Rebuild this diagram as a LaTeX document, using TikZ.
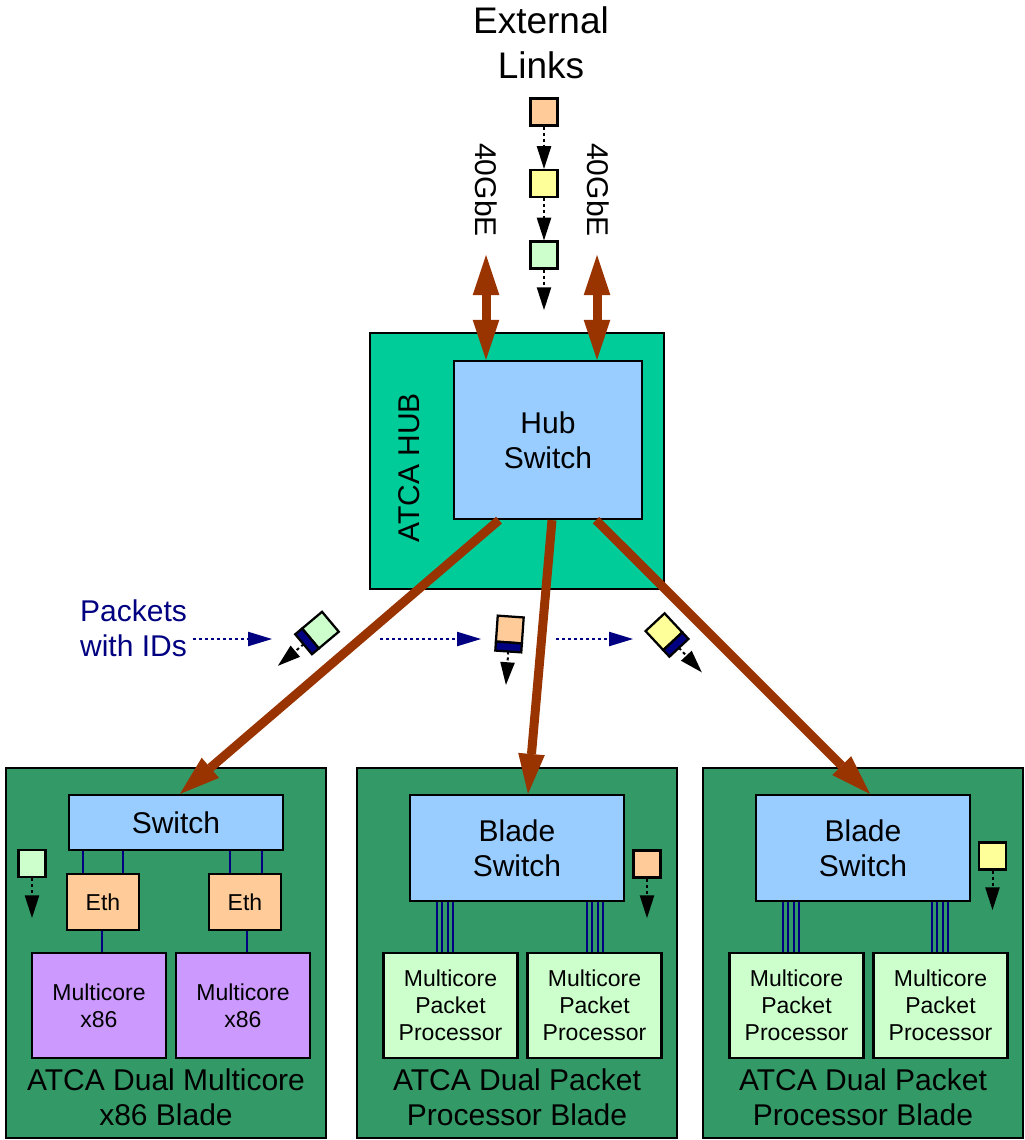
\documentclass[tikz,border=0pt]{standalone}
\usepackage{fontspec}
\setmainfont{Liberation Sans}
\usetikzlibrary{arrows.meta}
\tikzset{every picture/.style={line width=0.75pt}}
\definecolor{hubgreen}{RGB}{0,204,153}
\definecolor{bladegreen}{RGB}{51,153,102}
\definecolor{switchblue}{RGB}{153,204,255}
\definecolor{peach}{RGB}{255,204,153}
\definecolor{paleyellow}{RGB}{255,255,153}
\definecolor{palegreen}{RGB}{204,255,204}
\definecolor{cpupurple}{RGB}{204,153,255}
\definecolor{trunkbrown}{RGB}{153,51,0}
\definecolor{idnavy}{RGB}{0,0,128}
\newcommand{\bigtxt}{\fontsize{22.5}{26.25}\selectfont}
\newcommand{\smalltxt}{\fontsize{17.25}{20.25}\selectfont}
\newcommand{\toptxt}{\fontsize{27.75}{33.75}\selectfont}
\tikzset{
  box/.style={draw, line width=1.7pt, inner sep=0pt, align=center, font=\bigtxt},
  smallbox/.style={box, font=\smalltxt},
  label/.style={inner sep=0pt, align=center, font=\bigtxt},
  pktsq/.style={draw, line width=1.7pt, inner sep=0pt, minimum size=20.25pt},
  pktbody/.style={draw, line width=1.7pt},
  flow/.style={line width=1.5pt, dash pattern={on 2.25pt off 2.25pt}, -{Triangle[length=17pt,width=11pt,line width=0pt]}},
  idflow/.style={idnavy, line width=1.5pt, dash pattern={on 2.25pt off 2.25pt}, -{Triangle[length=18pt,width=11pt,line width=0pt]}},
  trunk/.style={trunkbrown, line width=6.75pt, -{Triangle[length=30pt,width=20pt,line width=0pt]}},
  uplink/.style={trunkbrown, line width=6.75pt, {Triangle[length=30pt,width=20pt,line width=0pt]}-{Triangle[length=30pt,width=20pt,line width=0pt]}},
  bus/.style={idnavy, line width=1.6pt}
}
\begin{document}
\begin{tikzpicture}[x=0.75pt,y=0.75pt,yscale=-1,xscale=1]
\useasboundingbox (0,0) rectangle (1025,1140);
%Shape: Rectangle [ATCA hub]
\node[box, fill=hubgreen, minimum width=220.5pt, minimum height=192pt] (hub) at (517,461) {};
\node[box, fill=switchblue, minimum width=141pt, minimum height=118.5pt] (hubsw) at (548,440) {Hub\\Switch};
% Text Node
\node[label, rotate=90] (hublbl) at (409,468) {ATCA HUB};
% Text Node
\node[label, font=\toptxt] (ext) at (541,42.5) {External\\Links};
\node[label, rotate=-90] (gbeL) at (486,190) {40GbE};
\node[label, rotate=-90] (gbeR) at (598,190) {40GbE};
%Packets on the uplink
\node[pktsq, fill=peach] (p1) at (544,112) {};
\node[pktsq, fill=paleyellow] (p2) at (544,183.5) {};
\node[pktsq, fill=palegreen] (p3) at (544,255) {};
\coordinate (p3end) at (544,310);
\draw[flow] (p1) -- (p2);
\draw[flow] (p2) -- (p3);
\draw[flow] (p3) -- (p3end);
%40GbE links
\coordinate (linkL) at (486,255);
\coordinate (linkR) at (597,255);
\draw[uplink] (linkL) -- (linkL |- hubsw.north);
\draw[uplink] (linkR) -- (linkR |- hubsw.north);

%Shape: Rectangle [blades]
\node[box, fill=bladegreen, minimum width=240pt, minimum height=277.5pt] (bladeA) at (166,953) {};
\node[box, fill=bladegreen, minimum width=240pt, minimum height=277.5pt] (bladeB) at (517,953) {};
\node[box, fill=bladegreen, minimum width=240pt, minimum height=277.5pt] (bladeC) at (863,953) {};
% Text Node
\node[label] (lblA) at (166,1097) {ATCA Dual Multicore\\x86 Blade};
\node[label] (lblB) at (517,1097) {ATCA Dual Packet\\Processor Blade};
\node[label] (lblC) at (863,1097) {ATCA Dual Packet\\Processor Blade};

%x86 blade
\node[box, fill=switchblue, minimum width=160.5pt, minimum height=41.25pt] (swA) at (176,822.5) {Switch};
\node[smallbox, fill=peach, minimum width=54pt, minimum height=42pt] (ethA1) at (103,902) {Eth};
\node[smallbox, fill=peach, minimum width=54pt, minimum height=42pt] (ethA2) at (245,902) {Eth};
\node[smallbox, fill=cpupurple, minimum width=100.5pt, minimum height=78.75pt] (cpuA1) at (99,1005.5) {Multicore\\x86};
\node[smallbox, fill=cpupurple, minimum width=100.5pt, minimum height=78.75pt] (cpuA2) at (243,1005.5) {Multicore\\x86};
\foreach \bx in {83,123}
  \draw[bus] (\bx,0 |- swA.south) -- (\bx,0 |- ethA1.north);
\foreach \bx in {230,262}
  \draw[bus] (\bx,0 |- swA.south) -- (\bx,0 |- ethA2.north);
\draw[bus] (102,0 |- ethA1.south) -- (102,0 |- cpuA1.north);
\draw[bus] (247,0 |- ethA2.south) -- (247,0 |- cpuA2.north);
\node[pktsq, fill=palegreen] (pktA) at (32,863.5) {};
\coordinate (pktAend) at (32,918);
\draw[flow] (pktA) -- (pktAend);

%packet processor blades
\node[box, fill=switchblue, minimum width=160.5pt, minimum height=79.5pt] (swB) at (517,848) {Blade\\Switch};
\node[smallbox, fill=palegreen, minimum width=100.5pt, minimum height=78.75pt] (ppB1) at (450.5,1005.5) {Multicore\\Packet\\Processor};
\node[smallbox, fill=palegreen, minimum width=100.5pt, minimum height=78.75pt] (ppB2) at (594.5,1005.5) {Multicore\\Packet\\Processor};
\node[pktsq, fill=peach] (pktB) at (647,864) {};
\coordinate (pktBend) at (647,918);
\draw[flow] (pktB) -- (pktBend);

\node[box, fill=switchblue, minimum width=160.5pt, minimum height=79.5pt] (swC) at (863,848) {Blade\\Switch};
\node[smallbox, fill=palegreen, minimum width=100.5pt, minimum height=78.75pt] (ppC1) at (796.5,1005.5) {Multicore\\Packet\\Processor};
\node[smallbox, fill=palegreen, minimum width=100.5pt, minimum height=78.75pt] (ppC2) at (940.5,1005.5) {Multicore\\Packet\\Processor};
\node[pktsq, fill=paleyellow] (pktC) at (992.5,856) {};
\coordinate (pktCend) at (992.5,910);
\draw[flow] (pktC) -- (pktCend);

\foreach \bx in {437,442.3,447.7,453} {
  \draw[bus] (\bx,0 |- swB.south) -- (\bx,0 |- ppB1.north);
  \draw[bus] ({\bx+150},0 |- swB.south) -- ({\bx+150},0 |- ppB2.north);
  \draw[bus] ({\bx+346},0 |- swC.south) -- ({\bx+346},0 |- ppC1.north);
  \draw[bus] ({\bx+495},0 |- swC.south) -- ({\bx+495},0 |- ppC2.north);
}

%Trunks from hub to blades
\draw[trunk] (499,0 |- hubsw.south) -- (180,0 |- swA.north);
\draw[trunk] (552,0 |- hubsw.south) -- (528,0 |- swB.north);
\draw[trunk] (596,0 |- hubsw.south) -- (870,0 |- swC.north);

% Text Node
\node[label, text=idnavy] (ids) at (133.5,628) {Packets\\with IDs};
\coordinate (ida) at (193,639);
\coordinate (idb) at (272,639);
\coordinate (idc) at (380,639);
\coordinate (idd) at (481,639);
\coordinate (ide) at (556,639);
\coordinate (idf) at (633,639);
\draw[idflow] (ida) -- (idb);
\draw[idflow] (idc) -- (idd);
\draw[idflow] (ide) -- (idf);
%Tagged packets
\begin{scope}[shift={(317,633)}, rotate=50]
  \draw[pktbody, fill=palegreen] (-13,-17.5) rectangle (13,8.5);
  \draw[pktbody, fill=idnavy] (-13,8.5) rectangle (13,17.5);
  \coordinate (tagA) at (0,17.5);
  \coordinate (tagAend) at (0,51);
\end{scope}
\begin{scope}[shift={(509.5,634)}, rotate=4]
  \draw[pktbody, fill=peach] (-13,-17.5) rectangle (13,8.5);
  \draw[pktbody, fill=idnavy] (-13,8.5) rectangle (13,17.5);
  \coordinate (tagB) at (0,17.5);
  \coordinate (tagBend) at (0,51);
\end{scope}
\begin{scope}[shift={(667,635)}, rotate=-43]
  \draw[pktbody, fill=paleyellow] (-13,-17.5) rectangle (13,8.5);
  \draw[pktbody, fill=idnavy] (-13,8.5) rectangle (13,17.5);
  \coordinate (tagC) at (0,17.5);
  \coordinate (tagCend) at (0,51);
\end{scope}
\draw[flow] (tagA) -- (tagAend);
\draw[flow] (tagB) -- (tagBend);
\draw[flow] (tagC) -- (tagCend);
\end{tikzpicture}
\end{document}
